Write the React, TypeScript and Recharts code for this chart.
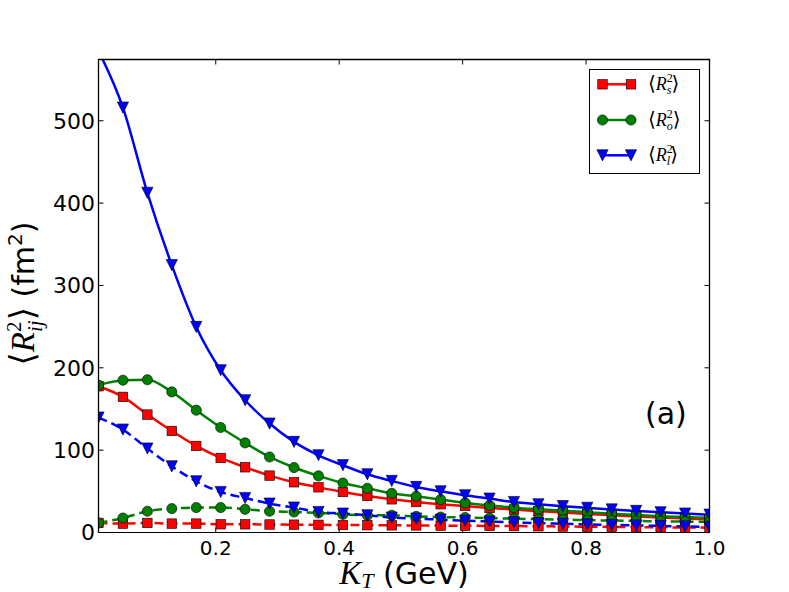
import { LineChart, Line, XAxis, YAxis } from 'recharts';

// K_T grid (GeV), markers every step
const kt = [
  0.01, 0.0496, 0.0892, 0.1288, 0.1684, 0.208, 0.2476, 0.2872, 0.3268, 0.3664, 0.406, 0.4456, 0.4852,
  0.5248, 0.5644, 0.604, 0.6436, 0.6832, 0.7228, 0.7624, 0.802, 0.8416, 0.8812, 0.9208, 0.9604, 1.0,
];

// solid curves
const rsSolid = [
  177.6, 164.7, 143.2, 123.3, 105.1, 90.5, 79.2, 69.1, 61, 54.9, 49.2, 44.4, 40.3,
  37, 34.3, 32.2, 29.8, 27.8, 26.1, 24.3, 22.6, 21, 19.5, 18.2, 17, 15.8,
];
const roSolid = [
  178.9, 184.9, 185.5, 170.7, 148.5, 127.5, 108.8, 91.7, 78.9, 68.7, 60.1, 53.7, 47.6,
  44, 40, 35.9, 33, 30.2, 28.2, 26.5, 24.6, 22.8, 21.2, 19.8, 18.8, 17.8,
];
const rlSolid = [
  585, 516, 412.5, 324.7, 249.6, 197, 160.6, 132.3, 110, 93.8, 81.7, 70.7, 62.6,
  55.3, 50, 45.2, 41.2, 37, 34.3, 32, 30, 28, 26.2, 24.6, 23, 21.7,
];

// dashed curves
const rsDashed = [
  11.6, 10.8, 11.6, 10.8, 10.8, 10, 10, 9.7, 9.5, 9.3, 9.1, 8.9, 8.7,
  8.6, 8.4, 8.2, 8, 7.8, 7.6, 7.3, 7, 6.8, 6.5, 6.3, 6.1, 5.9,
];
const roDashed = [
  11.6, 17.6, 25.8, 29, 30.3, 30.3, 28.2, 25.8, 24.9, 23.7, 22.1, 20.9, 20.9,
  19.5, 18.8, 18.2, 17.5, 16.8, 16.2, 15.6, 15, 14.5, 14, 13.6, 13.2, 12.8,
];
const rlDashed = [
  139.6, 125, 102, 80.4, 62.2, 49.2, 41.9, 35.1, 30.3, 24.9, 23, 20.9, 18.1,
  16.9, 15.6, 14.4, 13.3, 12.3, 11.4, 10.6, 9.9, 9.2, 8.6, 8, 7.4, 6.9,
];

const xTicks = [0.2, 0.4, 0.6, 0.8, 1.0];
const yTicks = [0, 100, 200, 300, 400, 500];
const legendSubs = ['s', 'o', 'l'];
const X_MIN = 0.01;
const X_MAX = 1.0;
const Y_MAX = 575;

const data = kt.map((x, i) => ({
  kt: x,
  rs: rsSolid[i],
  ro: roSolid[i],
  rl: rlSolid[i],
  rsD: rsDashed[i],
  roD: roDashed[i],
  rlD: rlDashed[i],
}));

const RED = '#ff0000';
const GREEN = '#008000';
const BLUE = '#0000ff';

// plot box in page pixels
const PLOT = { left: 98.5, right: 709.5, top: 59, bottom: 532.5 };

const squareAt = (cx: number, cy: number, key?: any) => (
  <rect key={key} x={cx - 4.75} y={cy - 4.75} width={9.5} height={9.5} fill={RED} stroke="#000" strokeWidth={0.6} />
);
const circleAt = (cx: number, cy: number, key?: any) => (
  <circle key={key} cx={cx} cy={cy} r={5.1} fill={GREEN} stroke="#000" strokeWidth={0.6} />
);
const triangleAt = (cx: number, cy: number, key?: any) => (
  <polygon
    key={key}
    points={`${cx - 5.6},${cy - 5.6} ${cx + 5.6},${cy - 5.6} ${cx},${cy + 5.6}`}
    fill={BLUE}
    stroke="#000"
    strokeWidth={0.6}
  />
);

const dotOf = (fn: (cx: number, cy: number, key?: any) => any) => (p: any) => {
  if (p.cx == null || p.cy == null) return <g key={p.index} />;
  return fn(p.cx, p.cy, p.index);
};

const tickFont = { fill: '#000', fontFamily: 'DejaVu Sans' };
const serif = 'Liberation Serif';

function Overlay() {
  const markers = [squareAt, circleAt, triangleAt];
  const colors = [RED, GREEN, BLUE];
  const rows = [84.3, 120, 155.3];
  const xPx = (t: number) => PLOT.left + ((t - X_MIN) / (X_MAX - X_MIN)) * (PLOT.right - PLOT.left);
  return (
    <svg
      width={789}
      height={592}
      viewBox="0 0 789 592"
      style={{ position: 'absolute', left: 0, top: 0, pointerEvents: 'none', zIndex: 5, overflow: 'visible' }}
    >
      {/* frame outline (top edge is only drawn here) */}
      <path
        d={`M ${PLOT.left} ${PLOT.bottom} V ${PLOT.top + 0.5} H ${PLOT.right} V ${PLOT.bottom}`}
        fill="none"
        stroke="#000"
        strokeWidth={1.3}
      />
      {xTicks.map((t) => (
        <line key={t} x1={xPx(t)} x2={xPx(t)} y1={PLOT.top} y2={PLOT.top + 5.5} stroke="#000" strokeWidth={1} />
      ))}
      {/* legend */}
      <rect x={589.5} y={69.5} width={110} height={104} fill="#fff" stroke="#000" strokeWidth={1} />
      {rows.map((y, i) => (
        <g key={i}>
          <line x1={602.5} x2={631} y1={y} y2={y} stroke={colors[i]} strokeWidth={2.5} />
          {markers[i](602.5, y)}
          {markers[i](631, y)}
          <text x={648} y={y + 6} fontFamily={serif} fontSize={18} fill="#000">
            <tspan fontFamily="DejaVu Serif" fontSize={20}>⟨</tspan>
            <tspan fontStyle="italic">R</tspan>
            <tspan fontSize={12} dy={-8}>2</tspan>
            <tspan fontSize={12} fontStyle="italic" dx={-6} dy={12}>{legendSubs[i]}</tspan>
            <tspan fontFamily="DejaVu Serif" fontSize={20} dy={-4}>⟩</tspan>
          </text>
        </g>
      ))}
      {/* panel tag */}
      <text x={645} y={424} fontFamily="DejaVu Sans" fontSize={30} fill="#000">(a)</text>
      {/* x label */}
      <text x={404} y={584} textAnchor="middle" fill="#000">
        <tspan fontFamily={serif} fontStyle="italic" fontSize={33}>K</tspan>
        <tspan fontFamily={serif} fontStyle="italic" fontSize={22} dy={4}>T</tspan>
        <tspan fontFamily="DejaVu Sans" fontSize={30} dy={-4}>{'\u00a0(GeV)'}</tspan>
      </text>
      {/* y label */}
      <text transform="rotate(-90)" x={-293.5} y={34} textAnchor="middle" fill="#000">
        <tspan fontFamily="DejaVu Serif" fontSize={34}>⟨</tspan>
        <tspan fontFamily={serif} fontStyle="italic" fontSize={33}>R</tspan>
        <tspan fontFamily={serif} fontSize={21} dy={-13}>2</tspan>
        <tspan fontFamily={serif} fontStyle="italic" fontSize={21} dx={-10.5} dy={21}>ij</tspan>
        <tspan fontFamily="DejaVu Serif" fontSize={34} dy={-8}>⟩</tspan>
        <tspan fontFamily="DejaVu Sans" fontSize={30}>{'\u00a0(fm'}</tspan>
        <tspan fontFamily="DejaVu Sans" fontSize={20} dy={-12}>2</tspan>
        <tspan fontFamily="DejaVu Sans" fontSize={30} dy={12}>)</tspan>
      </text>
    </svg>
  );
}

const frameAxis = { stroke: '#000', strokeWidth: 1 };

export default function App() {
  return (
    <div style={{ position: 'absolute', left: 0, top: 0, width: 789, height: 592, background: '#fff' }}>
      <LineChart width={789} height={592} data={data} margin={{ top: 59, right: 78.5, bottom: 19.5, left: 38.5 }}>
        <XAxis
          dataKey="kt"
          type="number"
          domain={[X_MIN, X_MAX]}
          allowDataOverflow
          ticks={xTicks}
          tickFormatter={(v: number) => v.toFixed(1)}
          height={40}
          tickSize={-5}
          tickMargin={13}
          tick={{ ...tickFont, fontSize: 20 }}
          axisLine={frameAxis}
          tickLine={{ stroke: '#000' }}
        />
        <YAxis
          type="number"
          domain={[0, Y_MAX]}
          allowDataOverflow
          ticks={yTicks}
          width={60}
          tickSize={-5}
          tickMargin={8.5}
          tick={{ ...tickFont, fontSize: 22 }}
          axisLine={frameAxis}
          tickLine={{ stroke: '#000' }}
        />
        <YAxis
          yAxisId="right"
          orientation="right"
          type="number"
          domain={[0, Y_MAX]}
          allowDataOverflow
          ticks={yTicks}
          width={1}
          tickSize={-5}
          tickFormatter={() => ''}
          axisLine={frameAxis}
          tickLine={{ stroke: '#000' }}
        />
        {/* invisible series that binds the right frame axis */}
        <Line yAxisId="right" dataKey="rs" stroke="none" dot={false} activeDot={false} legendType="none" isAnimationActive={false} />
        <Line dataKey="rs" type="monotone" stroke={RED} strokeWidth={2.5} dot={dotOf(squareAt)} activeDot={false} isAnimationActive={false} />
        <Line dataKey="ro" type="monotone" stroke={GREEN} strokeWidth={2.5} dot={dotOf(circleAt)} activeDot={false} isAnimationActive={false} />
        <Line dataKey="rl" type="monotone" stroke={BLUE} strokeWidth={2.5} dot={dotOf(triangleAt)} activeDot={false} isAnimationActive={false} />
        <Line dataKey="rsD" type="monotone" stroke={RED} strokeWidth={2.5} strokeDasharray="9 5" dot={dotOf(squareAt)} activeDot={false} isAnimationActive={false} />
        <Line dataKey="roD" type="monotone" stroke={GREEN} strokeWidth={2.5} strokeDasharray="9 5" dot={dotOf(circleAt)} activeDot={false} isAnimationActive={false} />
        <Line dataKey="rlD" type="monotone" stroke={BLUE} strokeWidth={2.5} strokeDasharray="9 5" dot={dotOf(triangleAt)} activeDot={false} isAnimationActive={false} />
      </LineChart>
      <Overlay />
    </div>
  );
}
